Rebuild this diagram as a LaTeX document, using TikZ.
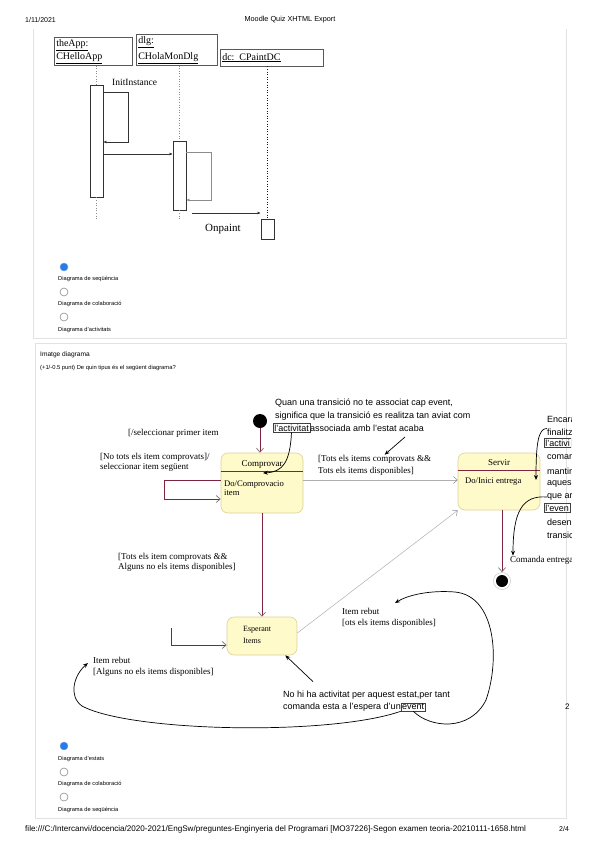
\documentclass[tikz,border=0pt]{standalone}
\usepackage{fontspec}
\setmainfont{Liberation Serif}
\setsansfont{Liberation Sans}
\usetikzlibrary{arrows.meta,positioning}
\definecolor{maroon}{RGB}{125,36,62}
\definecolor{statefill}{RGB}{254,250,201}
\definecolor{stateedge}{RGB}{221,209,150}
\definecolor{cardedge}{RGB}{226,226,226}
\definecolor{radioblue}{RGB}{40,122,232}
\definecolor{transgray}{RGB}{175,175,175}
\newcommand\uifont{\sffamily\fontsize{5.7}{6.5}\selectfont}
\newcommand\seqfont{\rmfamily\fontsize{10}{13}\selectfont}
\newcommand\stfont{\rmfamily\fontsize{9}{11}\selectfont}
\newcommand\notefont{\sffamily\fontsize{9}{12.5}\selectfont}
\tikzset{
  objbox/.style={draw=black!65,line width=.5pt,anchor=north west,inner sep=2pt,align=left,font=\seqfont},
  act/.style={draw=black!80,fill=white,line width=.6pt,minimum width=13pt,inner sep=0pt},
  life/.style={black!45,dotted,line width=.6pt},
  msg/.style={black!80,line width=.5pt,-{Latex[length=3pt,width=3pt]}},
  radioon/.style={circle,fill=radioblue,draw=radioblue!70!white,minimum size=8pt,inner sep=0pt},
  radiooff/.style={circle,draw=black!45,line width=.6pt,minimum size=8pt,inner sep=0pt},
  uitxt/.style={anchor=west,inner sep=0pt,font=\uifont},
  stbox/.style={draw=stateedge,fill=statefill,rounded corners=7pt,line width=.6pt,inner sep=0pt},
  sttxt/.style={anchor=west,inner sep=0pt,font=\stfont,align=left},
  trans/.style={maroon,line width=.7pt,-{Straight Barb[length=4pt,width=7pt,color=black!55]}},
  gtrans/.style={transgray,line width=.5pt,-{Straight Barb[length=4pt,width=7pt,color=black!45]}},
  notetxt/.style={anchor=west,inner sep=0pt,font=\notefont},
  wordbox/.style={draw=black!75,line width=.5pt,inner sep=1pt,anchor=west,font=\notefont},
  notearr/.style={black,line width=.7pt,-{Stealth[length=5pt,width=4pt]}},
}

\begin{document}
\begin{tikzpicture}[x=1pt,y=-1pt]
\useasboundingbox (0,0) rectangle (599,848);
% page header
\node[uitxt,font=\sffamily\fontsize{7}{8}\selectfont] (date) at (25,20) {1/11/2021};
\node[inner sep=0pt,font=\sffamily\fontsize{7.3}{8}\selectfont] (title) at (290,20) {Moodle Quiz XHTML Export};

% cards
\draw[cardedge,line width=.8pt] (33,29) -- (33,338) -- (566,338) -- (566,29);
\draw[cardedge,line width=.8pt] (35,343) rectangle (566,818);

% sequence diagram
\node[objbox,text width=74pt,minimum height=28pt] (app) at (54,37) {\underline{theApp:}\\\underline{CHelloApp}};
\node[objbox,text width=77pt,minimum height=31pt] (dlg) at (136,34) {\underline{dlg:}\\[3pt]\underline{CHolaMonDlg}};
\node[objbox,text width=99pt,minimum height=17pt] (dc) at (220,49) {\underline{dc: CPaintDC}};

\node[act,minimum height=112pt] (appact) at (96.5,141) {};
\node[act,minimum height=69pt] (dlgact) at (179.5,175.5) {};
\node[act,minimum height=20pt] (dcact) at (267.5,229) {};

\draw[life] (app.south -| appact.north) -- (appact.north);
\draw[life] (appact.south) -- ++(0,22);
\draw[life] (dlg.south -| dlgact.north) -- (dlgact.north);
\draw[life] (dlgact.south) -- ++(0,10);
\draw[life,black!90] (dc.south -| dcact.north) -- (dcact.north);

\draw[msg] (appact.east |- 0,92) -- ++(25,0) |- (appact.east |- 0,142);
\node[anchor=west,inner sep=0pt,font=\rmfamily\fontsize{9.5}{10}\selectfont] (initlbl) at (112,82) {InitInstance};
\draw[msg] (appact.east |- 0,154) -- (dlgact.west |- 0,154);
\draw[msg,black!45] (dlgact.east |- 0,152) -- ++(25,0) |- (dlgact.east |- 0,200);
\coordinate (paintsrc) at (192,213);
\draw[msg] (paintsrc) -- (paintsrc -| dcact.west);
\node[anchor=west,inner sep=0pt,font=\rmfamily\fontsize{11}{12}\selectfont] (onpaint) at (205,229) {Onpaint};

% answers, question 1
\node[radioon] (qa1) at (64,267) {};
\node[uitxt] (qa1lbl) at (58,279) {Diagrama de seqüència};
\node[radiooff] (qa2) at (64,292) {};
\node[uitxt] (qa2lbl) at (58,304) {Diagrama de colaboració};
\node[radiooff] (qa3) at (64,317) {};
\node[uitxt] (qa3lbl) at (58,330) {Diagrama d'activitats};

% question 2
\node[uitxt,font=\sffamily\fontsize{6.6}{7}\selectfont] (qtitle) at (40,355) {Imatge diagrama};
\node[uitxt,font=\sffamily\fontsize{5.8}{6}\selectfont] (qtext) at (40,368) {(+1/-0.5 punt) De quin tipus és el següent diagrama?};

\begin{scope}
\clip (36,380) rectangle (571,740);
% states
\node[circle,fill=black,minimum size=14pt,inner sep=0pt] (init) at (260,421) {};
\node[stbox,minimum width=82pt,minimum height=60pt] (comp) at (262,483) {};
\node[sttxt,anchor=center] (comphd) at (comp.north |- 0,464) {Comprovar};
\draw[maroon,line width=.6pt] (comp.west |- 0,471) -- (comp.east |- 0,471);
\node[sttxt,font=\rmfamily\fontsize{8.6}{9.5}\selectfont] (compdo) at (224,488) {Do/Comprovacio\\item};

\node[stbox,minimum width=82pt,minimum height=57pt] (serv) at (499,481.5) {};
\node[sttxt,anchor=center] (servhd) at (serv.north |- 0,463) {Servir};
\draw[maroon,line width=.6pt] (serv.west |- 0,470) -- (serv.east |- 0,470);
\node[sttxt,font=\rmfamily\fontsize{8.6}{9.5}\selectfont] (servdo) at (465,482) {Do/Inici entrega};

\node[stbox,minimum width=70pt,minimum height=38pt] (esp) at (262,636) {};
\node[sttxt,font=\rmfamily\fontsize{8}{12}\selectfont] (espname) at (243,635) {Esperant\\Items};

\node[circle,draw=black!20,line width=.6pt,minimum size=17pt,inner sep=0pt] (fin) at (502,581) {};
\node[circle,fill=black,minimum size=12pt,inner sep=0pt] (finin) at (fin) {};

% transitions
\draw[trans] (init.south) -- (init.south |- comp.north);
\draw[trans] (comp.west |- 0,480) -| (164,499) -- (comp.west |- 0,499);
\draw[gtrans] (comp.east |- 0,480) -- (serv.west |- 0,480);
\draw[trans] (comp.south) -- (esp.north);
\coordinate (espin) at (171,628);
\draw[trans] (espin) |- (esp.west |- 0,645);
\draw[gtrans] (esp.east |- 0,633) -- (serv.south west);
\draw[trans] (serv.south -| fin) -- (fin.north);

% transition labels
\node[sttxt] (firstlbl) at (128,433) {[/seleccionar primer item};
\node[sttxt,font=\rmfamily\fontsize{9}{10}\selectfont] (looplbl) at (100,462) {[No tots els item comprovats]/\\seleccionar item següent};
\node[sttxt,font=\rmfamily\fontsize{9}{12}\selectfont] (ctos) at (318,465) {[Tots els items comprovats \&\&\\Tots els items disponibles]};
\node[sttxt,font=\rmfamily\fontsize{9}{10}\selectfont] (ctoe) at (118,562) {[Tots els item comprovats \&\&\\Alguns no els items disponibles]};
\node[sttxt] (etos) at (342,617.5) {Item rebut\\{}[ots els items disponibles]};
\node[sttxt] (etoe) at (93,666.5) {Item rebut\\{}[Alguns no els items disponibles]};
\node[sttxt] (cmdlbl) at (510,560) {Comanda entrega};

% notes
\node[notetxt] (n1a) at (275,403) {Quan una transició no te associat cap event,};
\node[notetxt] (n1b) at (275,416) {significa que la transició es realitza tan aviat com};
\node[wordbox] (actbox) at (273,428) {l'activitat};
\node[notetxt] (n1c) at (actbox.east) {associada amb l'estat acaba};
\coordinate (comptip) at (263,473);
\draw[notearr] (actbox.south) .. controls (290,462) and (283,472) .. (comptip);
\coordinate (n1from) at (405,437);
\draw[notearr] (n1from) -- ([xshift=10pt]ctos.north);

\node[notetxt] (r1) at (547,419) {Encara};
\node[notetxt] (r2) at (547,432) {finalitz};
\node[wordbox] (r3) at (544,443) {l'activi};
\node[notetxt] (r4) at (547,457) {comar};
\node[notetxt] (r5) at (547,471) {mantir};
\node[notetxt] (r6) at (547,484) {aques};
\node[notetxt] (r7) at (547,497) {que ar};
\node[wordbox] (r8) at (544,508) {l'even};
\node[notetxt] (r9) at (547,522) {desen};
\node[notetxt] (r10) at (547,535) {transic};
\coordinate (servtip) at (536,480);
\draw[notearr] (r2.north west) .. controls (538,428) and (536,445) .. (servtip);
\draw[notearr] (r7.west) .. controls (522,495) and (513,512) .. ([xshift=3pt]cmdlbl.north west);

\node[notetxt] (n2a) at (283,695) {No hi ha activitat per aquest estat,per tant};
\node[notetxt] (n2b) at (283,707) {comanda esta a l'espera d'un};
\node[wordbox] (evbox) at (n2b.east) {event};
\draw[notearr] ([xshift=30pt,yshift=9pt]n2a.north west) -- ([xshift=-12pt]esp.south east);
\coordinate (etostip) at (395,603);
\draw[notearr] (evbox.south) .. controls (430,728) and (470,732) .. (486,700)
  .. controls (500,660) and (496,596) .. (455,592) .. controls (430,590) and (408,595) .. (etostip);
\coordinate (etoetip) at (88,663);
\draw[notearr] (evbox.south west) .. controls (330,736) and (130,732) .. (82,706)
  .. controls (68,696) and (74,675) .. (etoetip);
\end{scope}
\node[notetxt,font=\sffamily\fontsize{8}{9}\selectfont] (pgmark) at (565,707) {2};

% answers, question 2
\node[radioon] (qb1) at (64,746) {};
\node[uitxt] (qb1lbl) at (58,759) {Diagrama d'estats};
\node[radiooff] (qb2) at (64,772) {};
\node[uitxt] (qb2lbl) at (58,784) {Diagrama de colaboració};
\node[radiooff] (qb3) at (64,797) {};
\node[uitxt] (qb3lbl) at (58,810) {Diagrama de seqüència};

% page footer
\node[uitxt,font=\sffamily\fontsize{8.1}{9}\selectfont] (path) at (25,829) {file:///C:/Intercanvi/docencia/2020-2021/EngSw/preguntes-Enginyeria del Programari [MO37226]-Segon examen teoria-20210111-1658.html};
\node[uitxt,font=\sffamily\fontsize{7}{8}\selectfont] (pageno) at (559,829) {2/4};
\end{tikzpicture}
\end{document}
